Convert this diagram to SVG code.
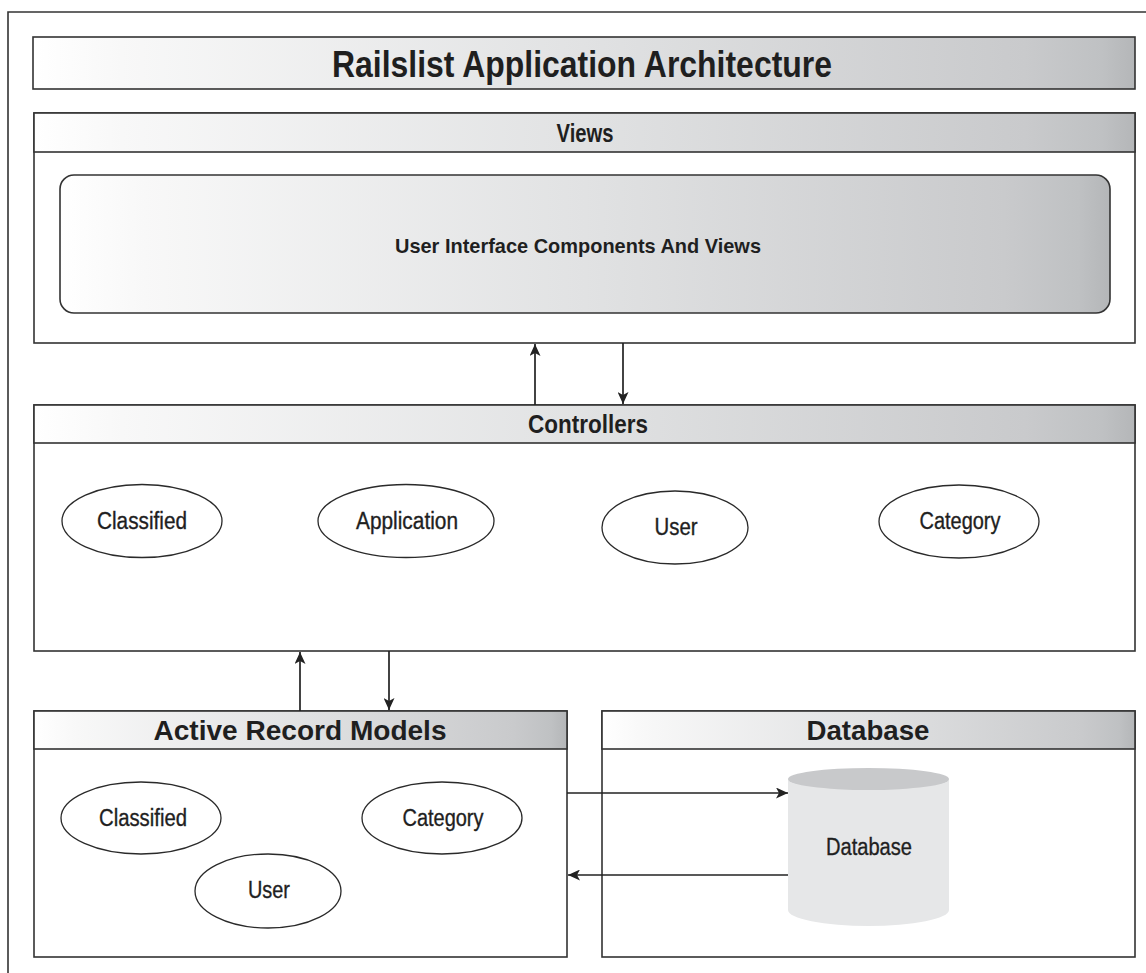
<svg xmlns="http://www.w3.org/2000/svg" width="1146" height="973" viewBox="0 0 1146 973">
<style>
.box{fill:#ffffff;stroke:#333333;stroke-width:1.6}
.hdr{fill:url(#hg);stroke:#333333;stroke-width:1.6}
.ell{fill:#ffffff;stroke:#2a2a2a;stroke-width:1.3}
.conn{stroke:#222222;stroke-width:1.7;fill:none;marker-end:url(#ah)}
.hb{font-family:"Liberation Sans",Arial,sans-serif;font-weight:bold;fill:#1f1f1f;text-anchor:middle}
.lb{font-family:"Liberation Sans",Arial,sans-serif;fill:#1f1f1f;text-anchor:middle;font-size:23px;stroke:#1f1f1f;stroke-width:0.35}
</style>
<defs>
<linearGradient id="hg" x1="0" y1="0" x2="1" y2="0">
<stop offset="0" stop-color="#ffffff"/>
<stop offset="0.08" stop-color="#f8f8f8"/>
<stop offset="0.5" stop-color="#e1e2e3"/>
<stop offset="0.9" stop-color="#c9cacc"/>
<stop offset="0.97" stop-color="#bfc1c3"/>
<stop offset="1" stop-color="#b4b6b8"/>
</linearGradient>
<marker id="ah" markerWidth="12" markerHeight="11" refX="12" refY="5.5" orient="auto" markerUnits="userSpaceOnUse">
<path d="M0,0 L12,5.5 L0,11 L3,5.5 z" fill="#222222"/>
</marker>
</defs>
<rect width="1146" height="973" fill="#ffffff"/>
<path d="M8,973 L8,12 L1146,12" fill="none" stroke="#333333" stroke-width="1.6"/>

<g id="title">
<rect class="hdr" x="33" y="37" width="1102" height="52"/>
<text class="hb" x="582" y="77" font-size="37" textLength="500" lengthAdjust="spacingAndGlyphs">Railslist Application Architecture</text>
</g>

<g id="views">
<rect class="box" x="34" y="113" width="1101" height="230"/>
<rect class="hdr" x="34" y="113" width="1101" height="39"/>
<text class="hb" x="585" y="142" font-size="25" textLength="57" lengthAdjust="spacingAndGlyphs">Views</text>
</g>
<g id="ui-components">
<rect x="60" y="175" width="1050" height="138" rx="14" fill="url(#hg)" stroke="#333333" stroke-width="1.6"/>
<text class="hb" x="578" y="253" font-size="21" textLength="366" lengthAdjust="spacingAndGlyphs">User Interface Components And Views</text>
</g>

<g id="controllers">
<rect class="box" x="34" y="405" width="1101" height="246"/>
<rect class="hdr" x="34" y="405" width="1101" height="38"/>
<text class="hb" x="588" y="433" font-size="25" textLength="120" lengthAdjust="spacingAndGlyphs">Controllers</text>
</g>
<g id="ctrl-classified">
<ellipse class="ell" cx="142" cy="521" rx="80" ry="36.5"/>
<text class="lb" x="142" y="529" textLength="90" lengthAdjust="spacingAndGlyphs">Classified</text>
</g>
<g id="ctrl-application">
<ellipse class="ell" cx="406" cy="521" rx="88" ry="36.5"/>
<text class="lb" x="407" y="529" textLength="102" lengthAdjust="spacingAndGlyphs">Application</text>
</g>
<g id="ctrl-user">
<ellipse class="ell" cx="675" cy="527.5" rx="73" ry="36.5"/>
<text class="lb" x="676" y="535" textLength="43" lengthAdjust="spacingAndGlyphs">User</text>
</g>
<g id="ctrl-category">
<ellipse class="ell" cx="959" cy="521.5" rx="80" ry="36.5"/>
<text class="lb" x="960" y="529" textLength="81" lengthAdjust="spacingAndGlyphs">Category</text>
</g>

<g id="models">
<rect class="box" x="34" y="711" width="533" height="246"/>
<rect class="hdr" x="34" y="711" width="533" height="38"/>
<text class="hb" x="300" y="740" font-size="27" textLength="293" lengthAdjust="spacingAndGlyphs">Active Record Models</text>
</g>
<g id="model-classified">
<ellipse class="ell" cx="141" cy="818" rx="80" ry="36"/>
<text class="lb" x="143" y="826" textLength="88" lengthAdjust="spacingAndGlyphs">Classified</text>
</g>
<g id="model-category">
<ellipse class="ell" cx="442" cy="818" rx="80" ry="36"/>
<text class="lb" x="443" y="826" textLength="81" lengthAdjust="spacingAndGlyphs">Category</text>
</g>
<g id="model-user">
<ellipse class="ell" cx="268" cy="891" rx="73" ry="37"/>
<text class="lb" x="269" y="898" textLength="42" lengthAdjust="spacingAndGlyphs">User</text>
</g>

<g id="database-box">
<rect class="box" x="602" y="711" width="533" height="246"/>
<rect class="hdr" x="602" y="711" width="533" height="38"/>
<text class="hb" x="868" y="740" font-size="27" textLength="123" lengthAdjust="spacingAndGlyphs">Database</text>
</g>
<g id="database-cylinder">
<path d="M788,779 L788,910 A80.5,16 0 0 0 949,910 L949,779 Z" fill="#e6e7e8"/>
<ellipse cx="868.5" cy="779" rx="80.5" ry="11" fill="#c8c9cb"/>
<text class="lb" x="869" y="855" textLength="86" lengthAdjust="spacingAndGlyphs">Database</text>
</g>

<g id="connectors">
<line class="conn" x1="535" y1="405" x2="535" y2="344"/>
<line class="conn" x1="623" y1="343" x2="623" y2="404"/>
<line class="conn" x1="300" y1="711" x2="300" y2="652"/>
<line class="conn" x1="389" y1="651" x2="389" y2="710"/>
<line class="conn" x1="567" y1="793" x2="788" y2="793"/>
<line class="conn" x1="788" y1="875" x2="568" y2="875"/>
</g>
</svg>
